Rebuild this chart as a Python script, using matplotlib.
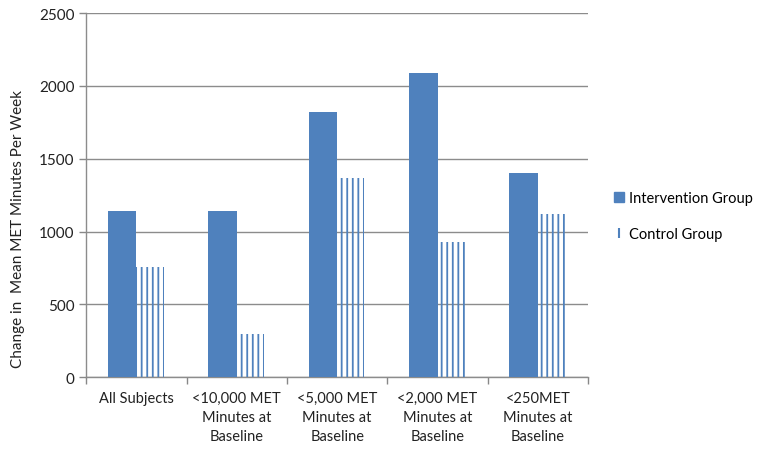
import matplotlib
matplotlib.use("Agg")
import matplotlib.pyplot as plt
from matplotlib.lines import Line2D
import numpy as np

categories = ["All Subjects", "<10,000 MET\nMinutes at\nBaseline", "<5,000 MET\nMinutes at\nBaseline",
              "<2,000 MET\nMinutes at\nBaseline", "<250MET\nMinutes at\nBaseline"]
intervention = [1140, 1140, 1820, 2090, 1400]
control = [760, 300, 1370, 930, 1120]
yticks = [0, 500, 1000, 1500, 2000, 2500]

plt.rcParams['font.family'] = ['Lato', 'DejaVu Sans']
plt.rcParams['hatch.linewidth'] = 1.3

blue = '#4F81BD'
fig = plt.figure(figsize=(7.62, 4.52), dpi=100)
ax = fig.add_axes([0.113, 0.163, 0.659, 0.806])

x = np.arange(len(categories))
w = 0.285
ax.bar(x, intervention, width=-w, align='edge', color=blue, edgecolor=blue, linewidth=0, zorder=3)
ax.bar(x, control, width=w * 0.95, align='edge', facecolor='none', edgecolor=blue, hatch='|||',
       linewidth=0, zorder=3)

ax.set_xlim(-0.5, len(categories) - 0.5)
ax.set_ylim(0, 2500)
ax.set_yticks(yticks)
ax.tick_params(axis='y', labelsize=11, colors='#222222', length=5, color='#888888', width=1)
ax.yaxis.grid(True, color='#8c8c8c', linewidth=1, zorder=0)
ax.set_axisbelow(True)

ax.set_xticks(x)
ax.set_xticklabels(categories, fontsize=10.5, color='#222222', linespacing=1.45)
ax.tick_params(axis='x', length=0, pad=10)
ax.set_xticks(np.arange(-0.5, len(categories) + 0.5, 1), minor=True)
ax.tick_params(axis='x', which='minor', length=5, color='#888888', width=1)

for s in ['top', 'right']:
    ax.spines[s].set_visible(False)
for s in ['left', 'bottom']:
    ax.spines[s].set_color('#8c8c8c')
    ax.spines[s].set_linewidth(1)

ax.set_ylabel("Change in  Mean MET Minutes Per Week", fontsize=11, color='#222222', labelpad=10, y=0.41)

handles = [Line2D([], [], marker='s', color=blue, linestyle='none', markersize=7),
           Line2D([], [], marker='|', color=blue, linestyle='none', markersize=7, markeredgewidth=1.5)]
fig.legend(handles, ["Intervention Group", "Control Group"], loc='center left',
           bbox_to_anchor=(0.805, 0.52), frameon=False, fontsize=10.5, labelspacing=1.5,
           handlelength=0.7, handletextpad=0.4, borderaxespad=0, borderpad=0)

fig.savefig("out.png", dpi=100)
